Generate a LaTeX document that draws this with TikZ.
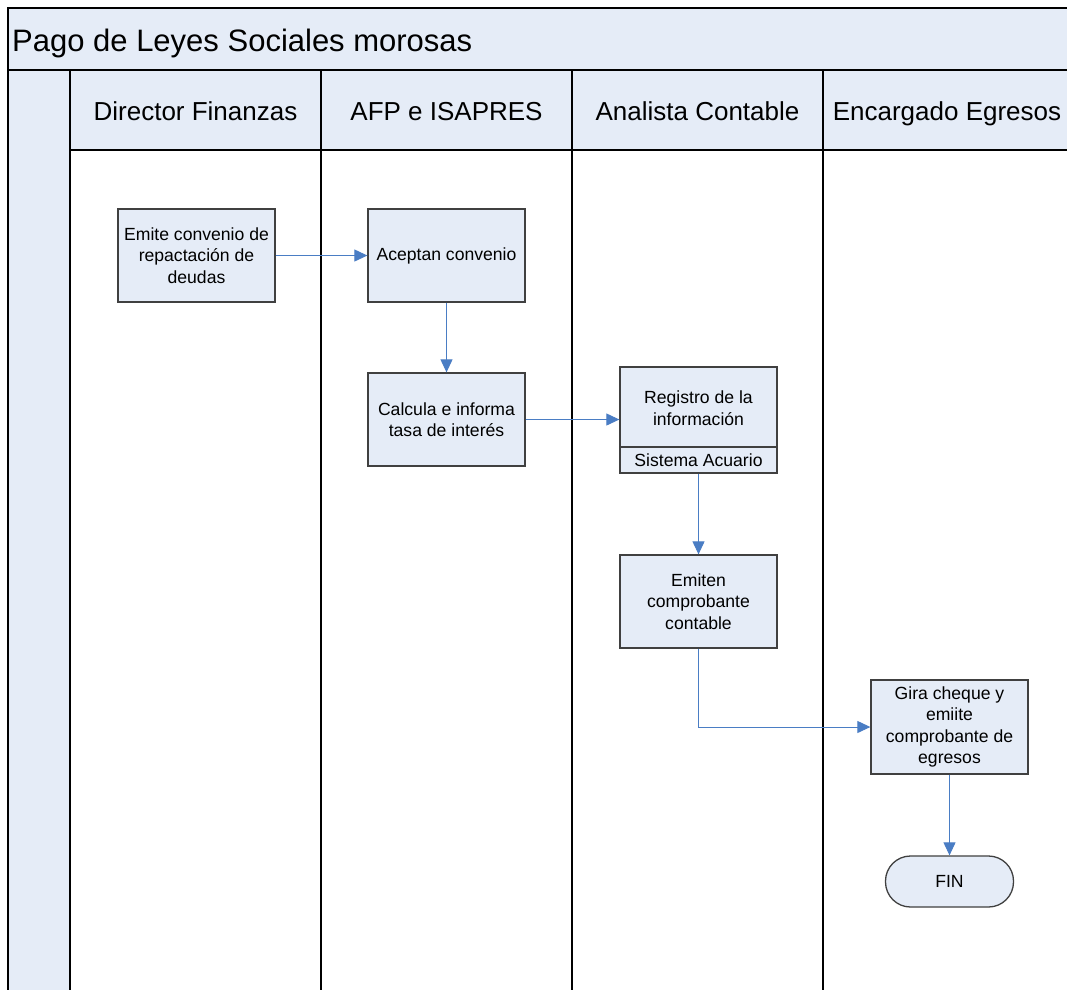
\documentclass[tikz,border=0pt]{standalone}
\usepackage{fontspec}
\setmainfont{Liberation Sans}
\usetikzlibrary{arrows.meta}
\definecolor{lanefill}{HTML}{E5ECF7}
\definecolor{flow}{HTML}{4A7DC4}
\definecolor{boxedge}{HTML}{404040}
\begin{document}
\begin{tikzpicture}[x=1pt,y=-1pt,
  laneline/.style={draw=black,line width=1.5pt},
  stepbox/.style={draw=boxedge,line width=1.3pt,fill=lanefill,rectangle,
    minimum width=157pt,inner sep=0pt,align=center,
    font=\fontsize{17.6}{21.6}\selectfont},
  txt/.style={inner sep=0pt,align=center,font=\fontsize{17.6}{21.6}\selectfont},
  endbox/.style={draw=boxedge,line width=1.3pt,fill=lanefill,rectangle,
    rounded corners=25pt,minimum width=128pt,minimum height=51pt,inner sep=0pt,
    font=\fontsize{17.6}{21.6}\selectfont},
  flowarrow/.style={draw=flow,line width=1pt,-{Triangle[length=13pt,width=12pt]}},
  header/.style={inner sep=0pt,anchor=base,font=\fontsize{26}{30}\selectfont}]
\useasboundingbox (0,0) rectangle (1067,989);
\clip (0,0) rectangle (1067,989);
\fill[white] (0,0) rectangle (1067,989);

% pool background bands
\fill[lanefill] (8,8) rectangle (1120,70);
\fill[lanefill] (70,70) rectangle (1120,150);
\fill[lanefill] (8,70) rectangle (70,1000);

% pool frame and lane dividers
\draw[laneline] (8,1000) -- (8,8) -- (1120,8);
\draw[laneline] (8,70) -- (1120,70);
\draw[laneline] (70,150) -- (1120,150);
\foreach \lx in {70,321,572,823}
  \draw[laneline] (\lx,70) -- (\lx,1000);

% titles
\node[inner sep=0pt,anchor=base west,font=\fontsize{31}{36}\selectfont] (titulo) at (12,51) {Pago de Leyes Sociales morosas};
\node[header] (hdir) at (195.5,120) {Director Finanzas};
\node[header] (hafp) at (446.5,120) {AFP e ISAPRES};
\node[header] (hana) at (697.5,120) {Analista Contable};
\node[header] (henc) at (947,120) {Encargado Egresos};

% process steps
\node[stepbox,minimum height=93pt] (emite) at (196.5,255.5) {Emite convenio de\\repactación de\\deudas};
\node[stepbox,minimum height=93pt] (acepta) at (446.5,255.5) {Aceptan convenio};
\node[stepbox,minimum height=93pt] (calcula) at (446.5,419.5) {Calcula e informa\\tasa de interés};
\node[stepbox,minimum height=106pt] (reg) at (698.5,420) {};
\draw[draw=boxedge,line width=1.3pt] (reg.west |- 0,447) -- (reg.east |- 0,447);
\node[txt] (regtxt) at (698.5,408) {Registro de la\\información};
\node[txt] (regsis) at (698.5,460) {Sistema Acuario};
\node[stepbox,minimum height=93pt] (emiten) at (698.5,601.5) {Emiten\\comprobante\\contable};
\node[stepbox,minimum height=94pt] (gira) at (949.5,727) {Gira cheque y\\emiite\\comprobante de\\egresos};
\node[endbox] (fin) at (949.5,881.5) {FIN};

% flow connectors
\draw[flowarrow] (emite.east) -- (acepta.west);
\draw[flowarrow] (acepta.south) -- (calcula.north);
\draw[flowarrow] (calcula.east) -- (calcula.east -| reg.west);
\draw[flowarrow] (reg.south) -- (emiten.north);
\draw[flowarrow] (emiten.south) |- (gira.west);
\draw[flowarrow] (gira.south) -- (fin.north);
\end{tikzpicture}
\end{document}
